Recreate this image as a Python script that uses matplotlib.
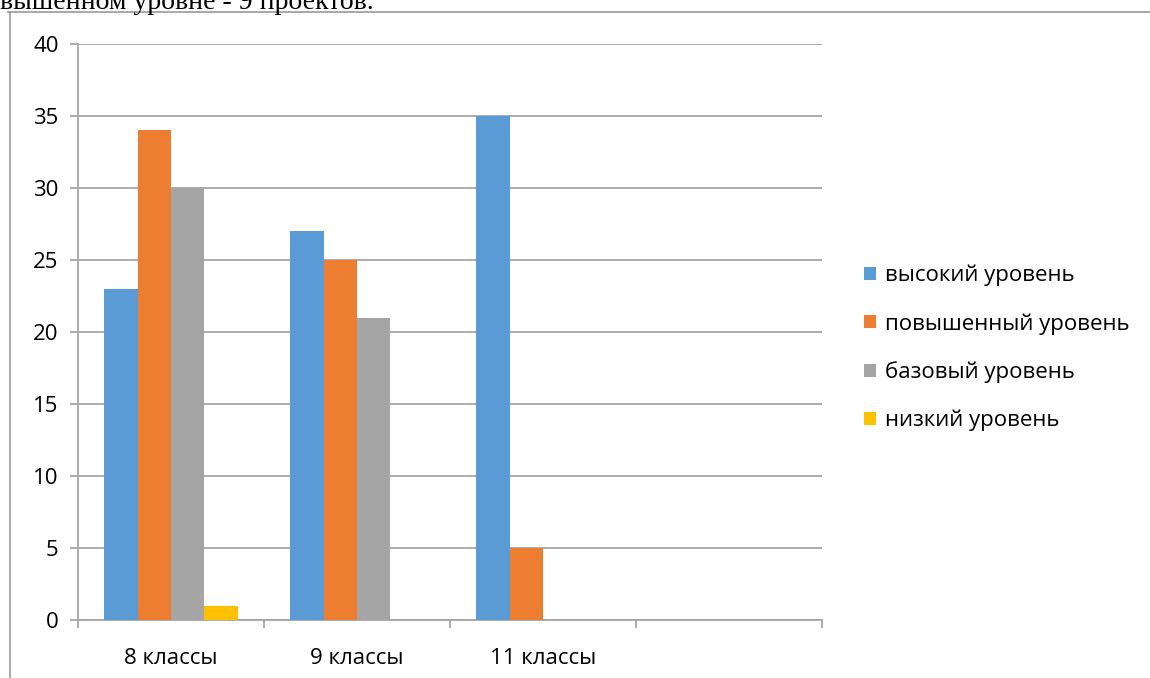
import matplotlib.pyplot as plt
from matplotlib.lines import Line2D
import numpy as np

# Datos
categorias = ['8 классы', '9 классы', '11 классы', '']
series = ['высокий уровень', 'повышенный уровень', 'базовый уровень', 'низкий уровень']
vysokiy = [23, 27, 35, 0]
povyshenny = [34, 25, 5, 0]
bazovy = [30, 21, 0, 0]
nizkiy = [1, 0, 0, 0]
valores = [vysokiy, povyshenny, bazovy, nizkiy]
colores = ['#5B9BD5', '#ED7D31', '#A5A5A5', '#FFC000']

plt.rcParams['font.family'] = ['Open Sans', 'DejaVu Sans']
fs = 16

W, H = 1150, 678
fig = plt.figure(figsize=(W / 100, H / 100), dpi=100)
ax = fig.add_axes([78 / W, 1 - 620 / H, (822 - 78) / W, (620 - 44) / H])

x = np.arange(len(categorias))
ancho = 0.18
for i, (nombre, vals, c) in enumerate(zip(series, valores, colores)):
    ax.bar(x + (i - 1.5) * ancho, vals, ancho, color=c, label=nombre, zorder=3)

ax.set_xlim(-0.5, len(categorias) - 0.5)
ax.set_ylim(0, 40)
ax.set_yticks(np.arange(0, 41, 5))
ax.grid(axis='y', color='#A6A6A6', linewidth=1.3, zorder=0)
ax.set_xticks(x)
ax.set_xticklabels(categorias, fontsize=fs)
ax.set_xticks(np.arange(-0.5, len(categorias), 1), minor=True)
ax.tick_params(axis='x', which='major', length=0, pad=20)
ax.tick_params(axis='x', which='minor', length=6, color='#A6A6A6', width=1.3)
ax.tick_params(axis='y', length=6, color='#A6A6A6', width=1.3, labelsize=fs, pad=8)

for s in ['top', 'right']:
    ax.spines[s].set_visible(False)
for s in ['left', 'bottom']:
    ax.spines[s].set_color('#A6A6A6')
    ax.spines[s].set_linewidth(1.3)

ax.legend(loc='center left', bbox_to_anchor=(1.056, 0.472), frameon=False,
          fontsize=fs, handlelength=0.55, handleheight=0.55, handletextpad=0.4,
          labelspacing=1.2, borderaxespad=0, borderpad=0)

# Marco y texto superior
fig.add_artist(Line2D([8 / W, 1], [1 - 12 / H, 1 - 12 / H], color='#999999', linewidth=1.2))
fig.add_artist(Line2D([10 / W, 10 / W], [0, 1 - 12 / H], color='#999999', linewidth=1.2))
fig.text(0.0, 1 - 9 / H, 'вышенном уровне - 9 проектов.', family='Liberation Serif',
         fontsize=20, va='baseline', ha='left')

plt.savefig('out.png', dpi=100)
